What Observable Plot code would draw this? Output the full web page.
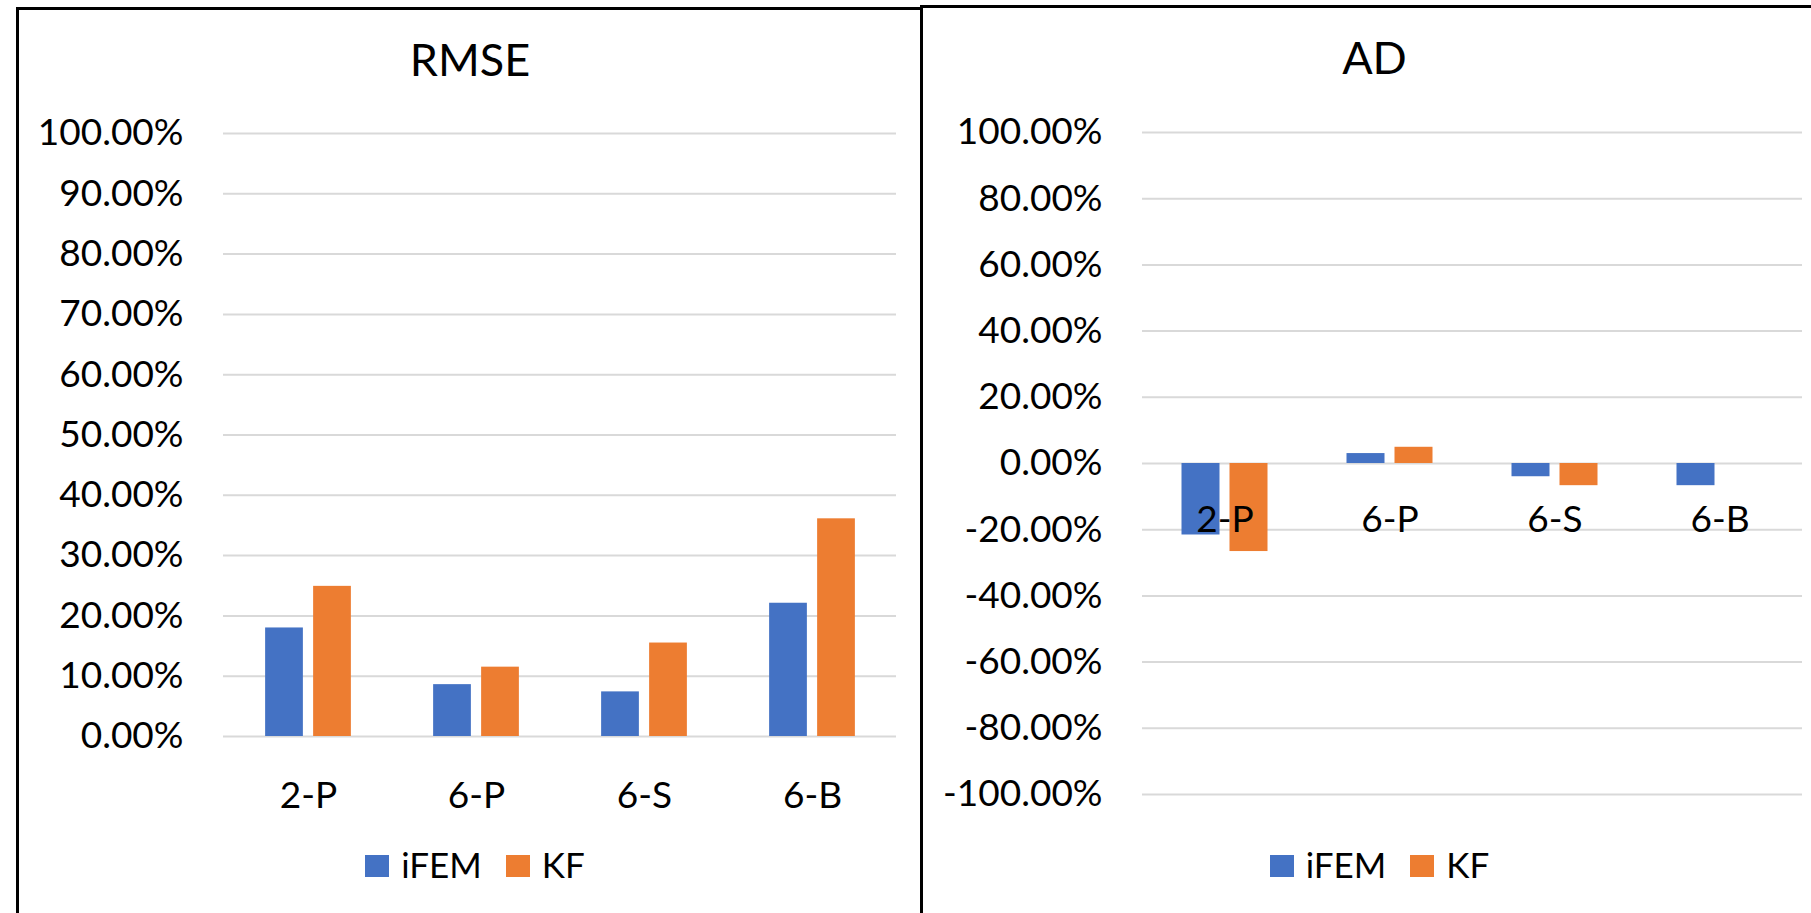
<!DOCTYPE html>
<html>
<head>
<meta charset="utf-8">
<script src="https://cdn.jsdelivr.net/npm/d3@7"></script>
<script src="https://cdn.jsdelivr.net/npm/@observablehq/plot@0.6"></script>
<style>
  html, body { margin: 0; padding: 0; background: #fff; }
  body { width: 1811px; height: 913px; overflow: hidden; position: relative; font-family: Lato, "Open Sans", sans-serif; color: #000; }
  .panel { position: absolute; background: #fff; border-left: 3px solid #000; border-top: 3px solid #000; box-sizing: content-box; overflow: hidden; }
  .title { position: absolute; left: 0; right: 0; text-align: center; font-size: 45px; line-height: 45px; }
  .chart { position: absolute; left: 0; }
  .legend { position: absolute; left: 0; right: 0; display: flex; justify-content: center; align-items: center; font-size: 35px; line-height: 36px; height: 36px; }
  .legend .sw { display: inline-block; width: 24px; height: 22px; margin-right: 12px; position: relative; top: 2px; }
  .legend .item { display: flex; align-items: center; margin: 0 12px; }
</style>
</head>
<body>
<script>
// Error metrics for the two estimators across the four load cases
const categories = ["2-P", "6-P", "6-S", "6-B"];
const seriesNames = ["iFEM", "KF"];
const seriesColors = ["#4472C4", "#ED7D31"];

const rmseIFEM = [0.180, 0.086, 0.074, 0.221];
const rmseKF   = [0.249, 0.115, 0.155, 0.361];

const adIFEM = [-0.216, 0.030, -0.040, -0.067];
const adKF   = [-0.266, 0.049, -0.067, 0.000];

const rmseTicks = [0, 0.1, 0.2, 0.3, 0.4, 0.5, 0.6, 0.7, 0.8, 0.9, 1.0];
const adTicks = [-1.0, -0.8, -0.6, -0.4, -0.2, 0, 0.2, 0.4, 0.6, 0.8, 1.0];

// Percent with two decimals and an ASCII hyphen for negatives
const pct = v => {
  const s = (Math.round(v * 10000) / 100).toFixed(2);
  return (s === "-0.00" ? "0.00" : s) + "%";
};

function rows(values) {
  return categories.map((c, i) => ({category: c, value: values[i]}));
}

function barChart({series, ticks, width, height, margin, labelsAtZero}) {
  const plotW = width - margin.left - margin.right;
  const band = plotW / categories.length;
  const barW = 38, step = 48;
  const inset = (band - barW) / 2;
  const marks = [
    Plot.ruleY(ticks, {stroke: "#d9d9d9", strokeWidth: 2})
  ];
  series.forEach((vals, k) => {
    marks.push(Plot.barY(rows(vals), {
      x: "category", y1: 0, y2: "value",
      fill: seriesColors[k],
      insetLeft: inset, insetRight: inset,
      dx: (k - (series.length - 1) / 2) * step
    }));
  });
  if (labelsAtZero) {
    // category labels sit just under the zero line, over the bars
    marks.push(Plot.text(categories, {
      x: d => d, y: () => 0, text: d => d,
      lineAnchor: "top", dy: 42, fontSize: 37, fill: "#000"
    }));
  }
  return Plot.plot({
    width, height,
    marginLeft: margin.left, marginRight: margin.right,
    marginTop: margin.top, marginBottom: margin.bottom,
    style: {fontFamily: "Lato, 'Open Sans', sans-serif", fontSize: "37px", color: "#000", background: "transparent", overflow: "visible"},
    x: {domain: categories, padding: 0, axis: labelsAtZero ? null : "bottom", tickSize: 0, tickPadding: 45, label: null},
    y: {domain: [ticks[0], ticks[ticks.length - 1]], ticks, tickFormat: pct, tickSize: 0, tickPadding: 40, label: null},
    marks
  });
}

function legend() {
  const div = document.createElement("div");
  div.className = "legend";
  seriesNames.forEach((name, k) => {
    const item = document.createElement("span");
    item.className = "item";
    const sw = document.createElement("span");
    sw.className = "sw";
    sw.style.background = seriesColors[k];
    item.appendChild(sw);
    item.appendChild(document.createTextNode(name));
    div.appendChild(item);
  });
  return div;
}

function panel({left, top, width, title, chart}) {
  const p = document.createElement("div");
  p.className = "panel";
  p.style.left = left + "px";
  p.style.top = top + "px";
  p.style.width = width + "px";
  p.style.height = (913 - top) + "px";
  const t = document.createElement("div");
  t.className = "title";
  t.style.top = "27px";
  t.textContent = title;
  p.appendChild(t);
  const c = document.createElement("div");
  c.className = "chart";
  c.style.top = (110 - top - 3) + "px";
  c.appendChild(chart);
  p.appendChild(c);
  const l = legend();
  l.style.top = (846 - top - 3) + "px";
  l.style.paddingLeft = "10px";
  p.appendChild(l);
  document.body.appendChild(p);
}

panel({
  left: 16, top: 7, width: 902, title: "RMSE",
  chart: barChart({
    series: [rmseIFEM, rmseKF], ticks: rmseTicks,
    width: 902, height: 720,
    margin: {left: 204, right: 25, top: 23, bottom: 94},
    labelsAtZero: false
  })
});

panel({
  left: 920, top: 5, width: 903, title: "AD",
  chart: barChart({
    series: [adIFEM, adKF], ticks: adTicks,
    width: 903, height: 720,
    margin: {left: 219, right: 24, top: 22, bottom: 36},
    labelsAtZero: true
  })
});
</script>
</body>
</html>
